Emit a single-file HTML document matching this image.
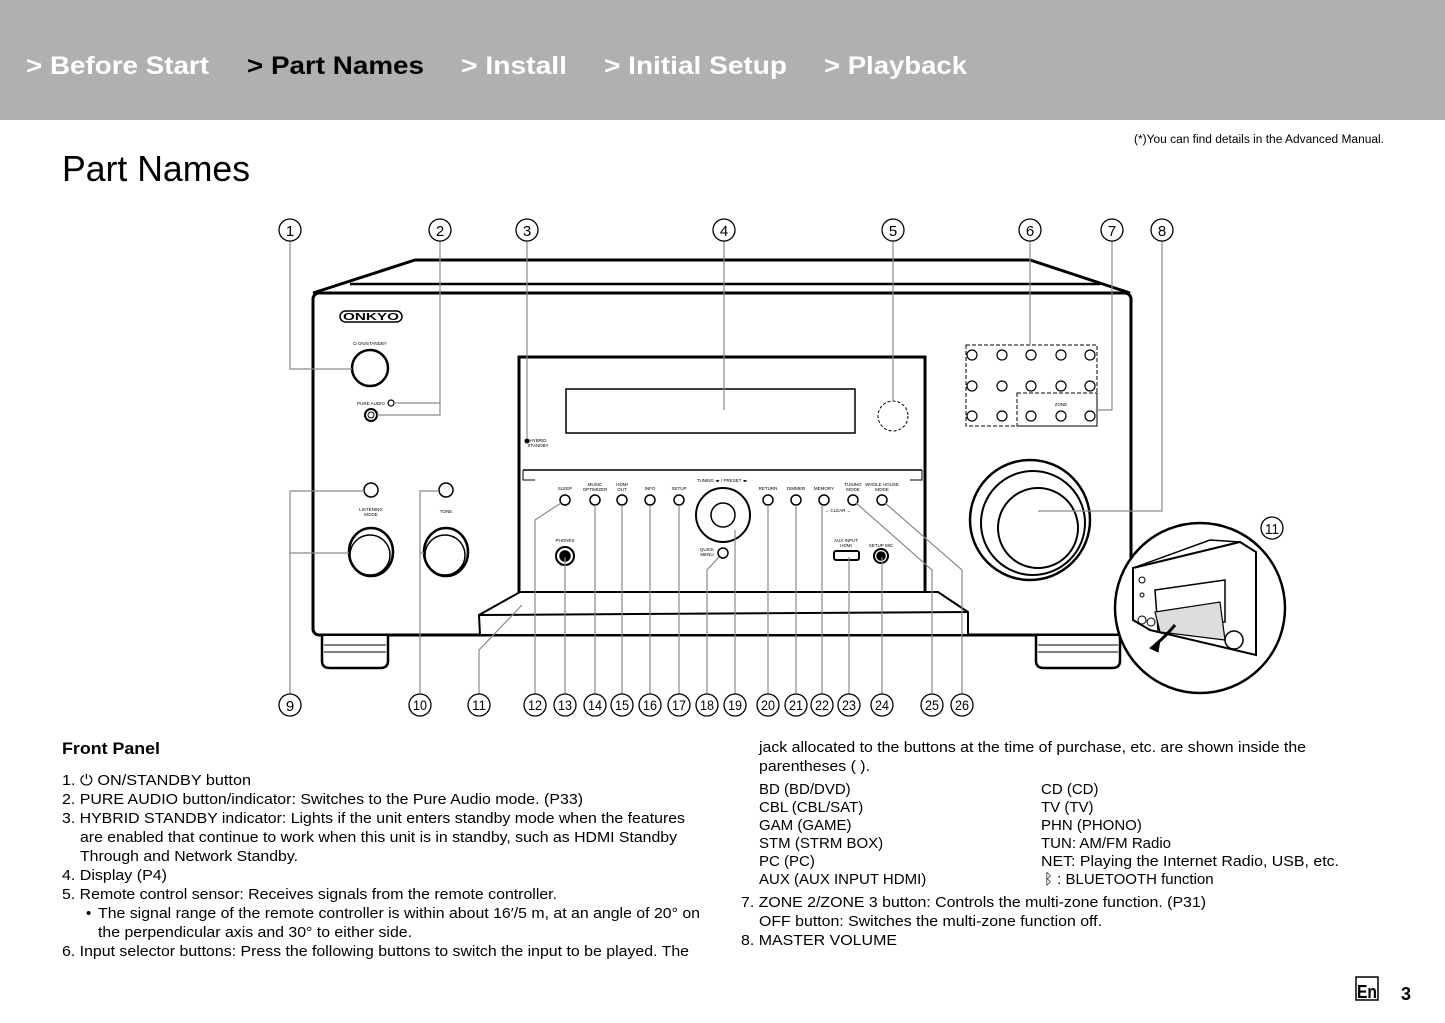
<!DOCTYPE html>
<html><head><meta charset="utf-8"><style>
html,body{margin:0;padding:0;background:#fff;width:1445px;height:1023px;overflow:hidden}
svg{display:block}
text{font-family:"Liberation Sans",Arial,sans-serif}
</style></head><body>
<svg width="1445" height="1023" viewBox="0 0 1445 1023" xmlns="http://www.w3.org/2000/svg">
<rect x="0" y="0" width="1445" height="120" fill="#b0b0b0"/>
<g font-weight="bold" font-size="25" fill="#fff">
<text x="26" y="74" textLength="183" lengthAdjust="spacingAndGlyphs">&gt; Before Start</text>
<text x="247" y="74" textLength="177" lengthAdjust="spacingAndGlyphs" fill="#000">&gt; Part Names</text>
<text x="461" y="74" textLength="106" lengthAdjust="spacingAndGlyphs">&gt; Install</text>
<text x="604" y="74" textLength="183" lengthAdjust="spacingAndGlyphs">&gt; Initial Setup</text>
<text x="824" y="74" textLength="143" lengthAdjust="spacingAndGlyphs">&gt; Playback</text>
</g>
<text x="1134" y="143" font-size="11.5" textLength="250" lengthAdjust="spacingAndGlyphs">(*)You can find details in the Advanced Manual.</text>
<text x="62" y="181" font-size="36" textLength="188" lengthAdjust="spacingAndGlyphs">Part Names</text>

<!-- receiver body -->
<g stroke="#000" fill="none">
<polyline points="313,293 415,260 1030,260 1130,293" stroke-width="3" fill="#fff"/>
<line x1="350" y1="284" x2="1100" y2="284" stroke-width="2.5"/>
<rect x="313" y="293" width="818" height="342" rx="6" stroke-width="3" fill="#fff"/>
<path d="M322,636 v25 q0,7 8,7 h50 q8,0 8,-7 v-25" stroke-width="2.5" fill="#fff"/>
<line x1="324" y1="645" x2="386" y2="645"/><line x1="324" y1="652" x2="386" y2="652"/>
<path d="M1036,636 v25 q0,7 8,7 h68 q8,0 8,-7 v-25" stroke-width="2.5" fill="#fff"/>
<line x1="1038" y1="645" x2="1118" y2="645"/><line x1="1038" y1="652" x2="1118" y2="652"/>
<rect x="519" y="357" width="406" height="243" stroke-width="3"/>
<line x1="523" y1="470" x2="922" y2="470" stroke-width="1.5"/>
<polyline points="523,470 523,480 535,480" stroke-width="1"/>
<polyline points="922,470 922,480 910,480" stroke-width="1"/>
<rect x="566" y="389" width="289" height="44" stroke-width="1.5"/>
<circle cx="893" cy="416" r="15" stroke-width="1" stroke-dasharray="3,2"/>
<circle cx="527" cy="441" r="2" fill="#000"/>
<polygon points="479,615 520,592 938,592 968,612 968,635 480,635" stroke-width="2" fill="#fff"/>
<line x1="479" y1="615" x2="968" y2="612" stroke-width="2"/>
<circle cx="370" cy="368" r="18" stroke-width="2.5"/>
<circle cx="371" cy="415" r="6" stroke-width="2"/>
<circle cx="371" cy="415" r="3" stroke-width="1"/>
<circle cx="391" cy="403" r="3" stroke-width="1.2"/>
<circle cx="371" cy="490" r="7" stroke-width="1.5"/>
<circle cx="446" cy="490" r="7" stroke-width="1.5"/>
<ellipse cx="371" cy="552" rx="22" ry="24" stroke-width="2.5"/>
<ellipse cx="370" cy="555" rx="20" ry="20" stroke-width="1.5"/>
<ellipse cx="446" cy="552" rx="22" ry="24" stroke-width="2.5"/>
<ellipse cx="445" cy="555" rx="20" ry="20" stroke-width="1.5"/>
<g stroke-width="1.5">
<circle cx="565" cy="500" r="5"/><circle cx="595" cy="500" r="5"/><circle cx="622" cy="500" r="5"/>
<circle cx="650" cy="500" r="5"/><circle cx="679" cy="500" r="5"/>
<circle cx="768" cy="500" r="5"/><circle cx="796" cy="500" r="5"/><circle cx="824" cy="500" r="5"/>
<circle cx="853" cy="500" r="5"/><circle cx="882" cy="500" r="5"/>
<circle cx="723" cy="515" r="27" stroke-width="2"/><circle cx="723" cy="515" r="12"/>
<circle cx="723" cy="553" r="5"/>
<circle cx="565" cy="556" r="9" stroke-width="2"/><circle cx="565" cy="556" r="5" fill="#000"/>
<rect x="834" y="551" width="25" height="9" rx="2" stroke-width="2"/>
<circle cx="881" cy="556" r="7" stroke-width="2"/><circle cx="881" cy="556" r="4" fill="#000"/>
</g>
<rect x="966" y="345" width="131" height="81" stroke-width="1" stroke-dasharray="4,2"/>
<rect x="1017" y="393" width="80" height="33" stroke-width="1" stroke-dasharray="4,2"/>
<g stroke-width="1.2">
<circle cx="972" cy="355" r="5"/><circle cx="1002" cy="355" r="5"/><circle cx="1031" cy="355" r="5"/><circle cx="1061" cy="355" r="5"/><circle cx="1090" cy="355" r="5"/>
<circle cx="972" cy="386" r="5"/><circle cx="1002" cy="386" r="5"/><circle cx="1031" cy="386" r="5"/><circle cx="1061" cy="386" r="5"/><circle cx="1090" cy="386" r="5"/>
<circle cx="972" cy="416" r="5"/><circle cx="1002" cy="416" r="5"/><circle cx="1031" cy="416" r="5"/><circle cx="1061" cy="416" r="5"/><circle cx="1090" cy="416" r="5"/>
</g>
<circle cx="1030" cy="520" r="60" stroke-width="2.5"/>
<circle cx="1033" cy="523" r="52" stroke-width="2"/>
<circle cx="1038" cy="528" r="40" stroke-width="2"/>
</g>

<!-- leader lines -->
<g stroke="#8a8a8a" stroke-width="1.2" fill="none">
<polyline points="290,241 290,369 352,369"/>
<polyline points="440,241 440,403 394,403"/>
<polyline points="440,403 440,415 377,415"/>
<line x1="527" y1="241" x2="527" y2="439"/>
<line x1="724" y1="241" x2="724" y2="410"/>
<line x1="893" y1="241" x2="893" y2="401"/>
<line x1="1030" y1="241" x2="1030" y2="345"/>
<polyline points="1112,241 1112,410 1097,410"/>
<polyline points="1162,241 1162,511 1038,511"/>
<polyline points="290,694 290,491 364,491"/>
<line x1="290" y1="553" x2="349" y2="553"/>
<polyline points="420,694 420,491 439,491"/>
<line x1="420" y1="553" x2="424" y2="553"/>
<polyline points="479,694 479,650 522,605"/>
<polyline points="535,694 535,520 561,503"/>
<line x1="565" y1="694" x2="565" y2="557"/>
<line x1="595" y1="694" x2="595" y2="505"/>
<line x1="622" y1="694" x2="622" y2="505"/>
<line x1="650" y1="694" x2="650" y2="505"/>
<line x1="679" y1="694" x2="679" y2="505"/>
<polyline points="707,694 707,570 719,557"/>
<line x1="735" y1="694" x2="735" y2="530"/>
<line x1="768" y1="694" x2="768" y2="505"/>
<line x1="796" y1="694" x2="796" y2="505"/>
<line x1="822" y1="694" x2="822" y2="505"/>
<line x1="849" y1="694" x2="849" y2="557"/>
<line x1="882" y1="694" x2="882" y2="557"/>
<polyline points="932,694 932,570 856,503"/>
<polyline points="962,694 962,570 885,503"/>
</g>

<!-- inset -->
<g stroke="#000" fill="none">
<circle cx="1200" cy="608" r="85" stroke-width="2.5" fill="#fff"/>
<polygon points="1133,568 1240,542 1256,552 1256,655 1150,630 1133,620" stroke-width="2" fill="#fff"/>
<polyline points="1133,568 1210,540 1240,542" stroke-width="1.5"/>
<polygon points="1155,590 1225,580 1225,622 1158,630" stroke-width="1.5"/>
<polygon points="1155,612 1220,602 1225,640 1160,632" fill="#ddd" stroke-width="1.2"/>
<circle cx="1234" cy="640" r="9" stroke-width="1.5"/>
<path d="M1175,625 q-10,12 -20,20" stroke-width="3"/>
<polygon points="1150,648 1160,640 1158,652" fill="#000"/>
<circle cx="1142" cy="580" r="3"/><circle cx="1142" cy="595" r="2"/>
<circle cx="1142" cy="620" r="4"/><circle cx="1151" cy="622" r="4"/>
</g>
<g font-size="4.5" fill="#000" text-anchor="middle">
<text x="370" y="345">⏻ ON/STANDBY</text>
<text x="371" y="405">PURE AUDIO</text>
<text x="538" y="442">HYBRID</text><text x="538" y="447">STANDBY</text>
<text x="371" y="511">LISTENING</text><text x="371" y="516">MODE</text>
<text x="446" y="513">TONE</text>
<text x="565" y="490">SLEEP</text>
<text x="595" y="486">MUSIC</text><text x="595" y="491">OPTIMIZER</text>
<text x="622" y="486">HDMI</text><text x="622" y="491">OUT</text>
<text x="650" y="490">INFO</text><text x="679" y="490">SETUP</text>
<text x="722" y="482">TUNING ◂▸ / PRESET ◂▸</text>
<text x="768" y="490">RETURN</text><text x="796" y="490">DIMMER</text><text x="824" y="490">MEMORY</text>
<text x="853" y="486">TUNING</text><text x="853" y="491">MODE</text>
<text x="882" y="486">WHOLE HOUSE</text><text x="882" y="491">MODE</text>
<text x="838" y="512">← CLEAR →</text>
<text x="565" y="542">PHONES</text>
<text x="707" y="551">QUICK</text><text x="707" y="556">MENU</text>
<text x="846" y="542">AUX INPUT</text><text x="846" y="547">HDMI</text>
<text x="881" y="547">SETUP MIC</text>
<text x="1061" y="406">ZONE</text>
</g>
<rect x="340" y="311" width="62" height="11" rx="5.5" fill="none" stroke="#000" stroke-width="1.5"/>
<text x="371" y="320" font-size="10" font-weight="bold" text-anchor="middle" font-family="Liberation Serif" textLength="56" lengthAdjust="spacingAndGlyphs">ONKYO</text>

<g fill="#fff" stroke="#000" stroke-width="1.3">
<circle cx="290" cy="230" r="11"/><circle cx="440" cy="230" r="11"/><circle cx="527" cy="230" r="11"/>
<circle cx="724" cy="230" r="11"/><circle cx="893" cy="230" r="11"/><circle cx="1030" cy="230" r="11"/>
<circle cx="1112" cy="230" r="11"/><circle cx="1162" cy="230" r="11"/><circle cx="1272" cy="528" r="11"/>
<circle cx="290" cy="705" r="11"/><circle cx="420" cy="705" r="11"/><circle cx="479" cy="705" r="11"/>
<circle cx="535" cy="705" r="11"/><circle cx="565" cy="705" r="11"/><circle cx="595" cy="705" r="11"/>
<circle cx="622" cy="705" r="11"/><circle cx="650" cy="705" r="11"/><circle cx="679" cy="705" r="11"/>
<circle cx="707" cy="705" r="11"/><circle cx="735" cy="705" r="11"/><circle cx="768" cy="705" r="11"/>
<circle cx="796" cy="705" r="11"/><circle cx="822" cy="705" r="11"/><circle cx="849" cy="705" r="11"/>
<circle cx="882" cy="705" r="11"/><circle cx="932" cy="705" r="11"/><circle cx="962" cy="705" r="11"/>
</g>
<g font-size="15" text-anchor="middle" fill="#000">
<text x="290" y="236">1</text><text x="440" y="236">2</text><text x="527" y="236">3</text><text x="724" y="236">4</text>
<text x="893" y="236">5</text><text x="1030" y="236">6</text><text x="1112" y="236">7</text><text x="1162" y="236">8</text>
<text x="1272" y="534" textLength="14" lengthAdjust="spacingAndGlyphs">11</text>
<text x="290" y="711">9</text>
</g>
<g font-size="14" text-anchor="middle" fill="#000">
<text x="420" y="710" textLength="14" lengthAdjust="spacingAndGlyphs">10</text>
<text x="479" y="710" textLength="14" lengthAdjust="spacingAndGlyphs">11</text>
<text x="535" y="710" textLength="14" lengthAdjust="spacingAndGlyphs">12</text>
<text x="565" y="710" textLength="14" lengthAdjust="spacingAndGlyphs">13</text>
<text x="595" y="710" textLength="14" lengthAdjust="spacingAndGlyphs">14</text>
<text x="622" y="710" textLength="14" lengthAdjust="spacingAndGlyphs">15</text>
<text x="650" y="710" textLength="14" lengthAdjust="spacingAndGlyphs">16</text>
<text x="679" y="710" textLength="14" lengthAdjust="spacingAndGlyphs">17</text>
<text x="707" y="710" textLength="14" lengthAdjust="spacingAndGlyphs">18</text>
<text x="735" y="710" textLength="14" lengthAdjust="spacingAndGlyphs">19</text>
<text x="768" y="710" textLength="14" lengthAdjust="spacingAndGlyphs">20</text>
<text x="796" y="710" textLength="14" lengthAdjust="spacingAndGlyphs">21</text>
<text x="822" y="710" textLength="14" lengthAdjust="spacingAndGlyphs">22</text>
<text x="849" y="710" textLength="14" lengthAdjust="spacingAndGlyphs">23</text>
<text x="882" y="710" textLength="14" lengthAdjust="spacingAndGlyphs">24</text>
<text x="932" y="710" textLength="14" lengthAdjust="spacingAndGlyphs">25</text>
<text x="962" y="710" textLength="14" lengthAdjust="spacingAndGlyphs">26</text>
</g>

<text x="62" y="754" font-size="17" font-weight="bold" textLength="98" lengthAdjust="spacingAndGlyphs">Front Panel</text>
<g font-size="15" fill="#000">
<text x="62" y="785" textLength="189" lengthAdjust="spacingAndGlyphs">1. ⏻ ON/STANDBY button</text>
<text x="62" y="804" textLength="521" lengthAdjust="spacingAndGlyphs">2. PURE AUDIO button/indicator: Switches to the Pure Audio mode. (P33)</text>
<text x="62" y="823" textLength="623" lengthAdjust="spacingAndGlyphs">3. HYBRID STANDBY indicator: Lights if the unit enters standby mode when the features</text>
<text x="80" y="842" textLength="597" lengthAdjust="spacingAndGlyphs">are enabled that continue to work when this unit is in standby, such as HDMI Standby</text>
<text x="80" y="861" textLength="218" lengthAdjust="spacingAndGlyphs">Through and Network Standby.</text>
<text x="62" y="880" textLength="105" lengthAdjust="spacingAndGlyphs">4. Display (P4)</text>
<text x="62" y="899" textLength="495" lengthAdjust="spacingAndGlyphs">5. Remote control sensor: Receives signals from the remote controller.</text>
<text x="86" y="918">•</text>
<text x="98" y="918" textLength="602" lengthAdjust="spacingAndGlyphs">The signal range of the remote controller is within about 16′/5 m, at an angle of 20° on</text>
<text x="98" y="937" textLength="314" lengthAdjust="spacingAndGlyphs">the perpendicular axis and 30° to either side.</text>
<text x="62" y="956" textLength="627" lengthAdjust="spacingAndGlyphs">6. Input selector buttons: Press the following buttons to switch the input to be played. The</text>

<text x="759" y="752" textLength="547" lengthAdjust="spacingAndGlyphs">jack allocated to the buttons at the time of purchase, etc. are shown inside the</text>
<text x="759" y="771" textLength="111" lengthAdjust="spacingAndGlyphs">parentheses ( ).</text>
<text x="759" y="794">BD (BD/DVD)</text><text x="1041" y="794">CD (CD)</text>
<text x="759" y="812">CBL (CBL/SAT)</text><text x="1041" y="812">TV (TV)</text>
<text x="759" y="830">GAM (GAME)</text><text x="1041" y="830">PHN (PHONO)</text>
<text x="759" y="848">STM (STRM BOX)</text><text x="1041" y="848">TUN: AM/FM Radio</text>
<text x="759" y="866">PC (PC)</text><text x="1041" y="866" textLength="298" lengthAdjust="spacingAndGlyphs">NET: Playing the Internet Radio, USB, etc.</text>
<text x="759" y="884">AUX (AUX INPUT HDMI)</text><text x="1044" y="884">ᛒ : BLUETOOTH function</text>
<text x="741" y="907" textLength="465" lengthAdjust="spacingAndGlyphs">7. ZONE 2/ZONE 3 button: Controls the multi-zone function. (P31)</text>
<text x="759" y="926" textLength="343" lengthAdjust="spacingAndGlyphs">OFF button: Switches the multi-zone function off.</text>
<text x="741" y="945" textLength="156" lengthAdjust="spacingAndGlyphs">8. MASTER VOLUME</text>
</g>
<rect x="1356" y="977" width="22" height="23" fill="none" stroke="#000" stroke-width="1.5"/>
<text x="1357" y="998" font-size="18" font-weight="bold" textLength="20" lengthAdjust="spacingAndGlyphs">En</text>
<text x="1401" y="1000" font-size="18" font-weight="bold">3</text>
</svg>
</body></html>
